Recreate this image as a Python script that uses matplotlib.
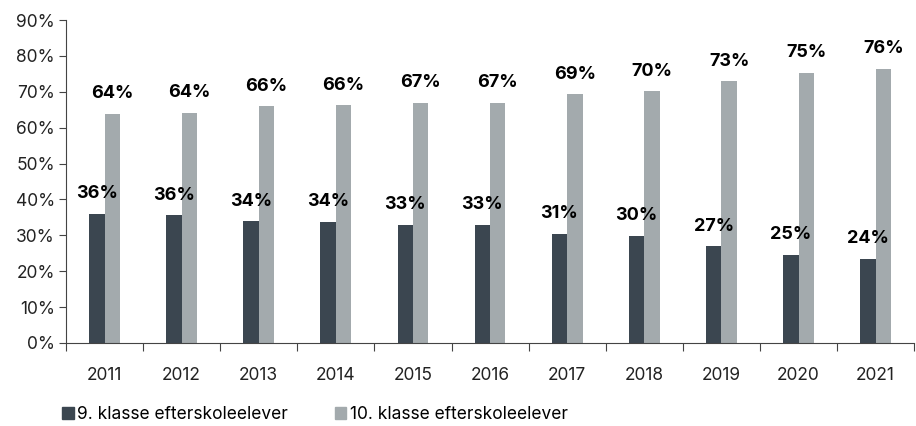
import numpy as np
import matplotlib
matplotlib.use("Agg")
import matplotlib.pyplot as plt
from matplotlib.patches import Patch

years = ["2011", "2012", "2013", "2014", "2015", "2016", "2017", "2018", "2019", "2020", "2021"]
klasse9 = [36.0, 35.6, 33.9, 33.7, 32.9, 32.9, 30.5, 29.8, 26.9, 24.5, 23.5]
klasse10 = [63.8, 64.2, 65.9, 66.2, 67.0, 67.0, 69.3, 70.1, 72.9, 75.3, 76.4]
labels9 = ["36%", "36%", "34%", "34%", "33%", "33%", "31%", "30%", "27%", "25%", "24%"]
labels10 = ["64%", "64%", "66%", "66%", "67%", "67%", "69%", "70%", "73%", "75%", "76%"]
series_names = ["9. klasse efterskoleelever", "10. klasse efterskoleelever"]

c_dark = "#3b4650"
c_light = "#a3aaad"
plt.rcParams["font.family"] = ["Inter", "DejaVu Sans"]

fig = plt.figure(figsize=(9.16, 4.26), dpi=100)
ax = fig.add_axes([0.072, 0.195, 0.926, 0.758])

x = np.arange(len(years))
w = 0.2
ax.bar(x - w / 2, klasse9, w, color=c_dark)
ax.bar(x + w / 2, klasse10, w, color=c_light)

for i in range(len(years)):
    ax.text(x[i] - w / 2, klasse9[i] + 5.6, labels9[i], ha="center", va="center",
            fontsize=13, fontweight="bold", color="black")
    ax.text(x[i] + w / 2, klasse10[i] + 5.6, labels10[i], ha="center", va="center",
            fontsize=13, fontweight="bold", color="black")

ax.set_xlim(-0.5, len(years) - 0.5)
ax.set_ylim(0, 90)
ax.set_yticks(np.arange(0, 91, 10))
ax.set_yticklabels([f"{v}%" for v in range(0, 91, 10)], fontsize=12.5, color="#222222")

ax.set_xticks(np.arange(-0.5, len(years), 1))
ax.set_xticklabels([])
ax.set_xticks(x, minor=True)
ax.set_xticklabels(years, minor=True, fontsize=12.5, color="#222222")
ax.tick_params(axis="x", which="major", length=6, color="#444444", direction="out")
ax.tick_params(axis="x", which="minor", length=0, pad=17)
ax.tick_params(axis="y", length=5, color="#444444", pad=3)

for s in ["top", "right"]:
    ax.spines[s].set_visible(False)
ax.spines["left"].set_color("#444444")
ax.spines["bottom"].set_color("#444444")

handles = [Patch(color=c_dark), Patch(color=c_light)]
fig.legend(handles, series_names, loc="lower left", bbox_to_anchor=(0.051, -0.03),
           ncol=2, frameon=False, fontsize=12.5, handlelength=0.65, handleheight=0.65,
           handletextpad=0.2, columnspacing=2.7)

fig.savefig("out.png", dpi=100)
